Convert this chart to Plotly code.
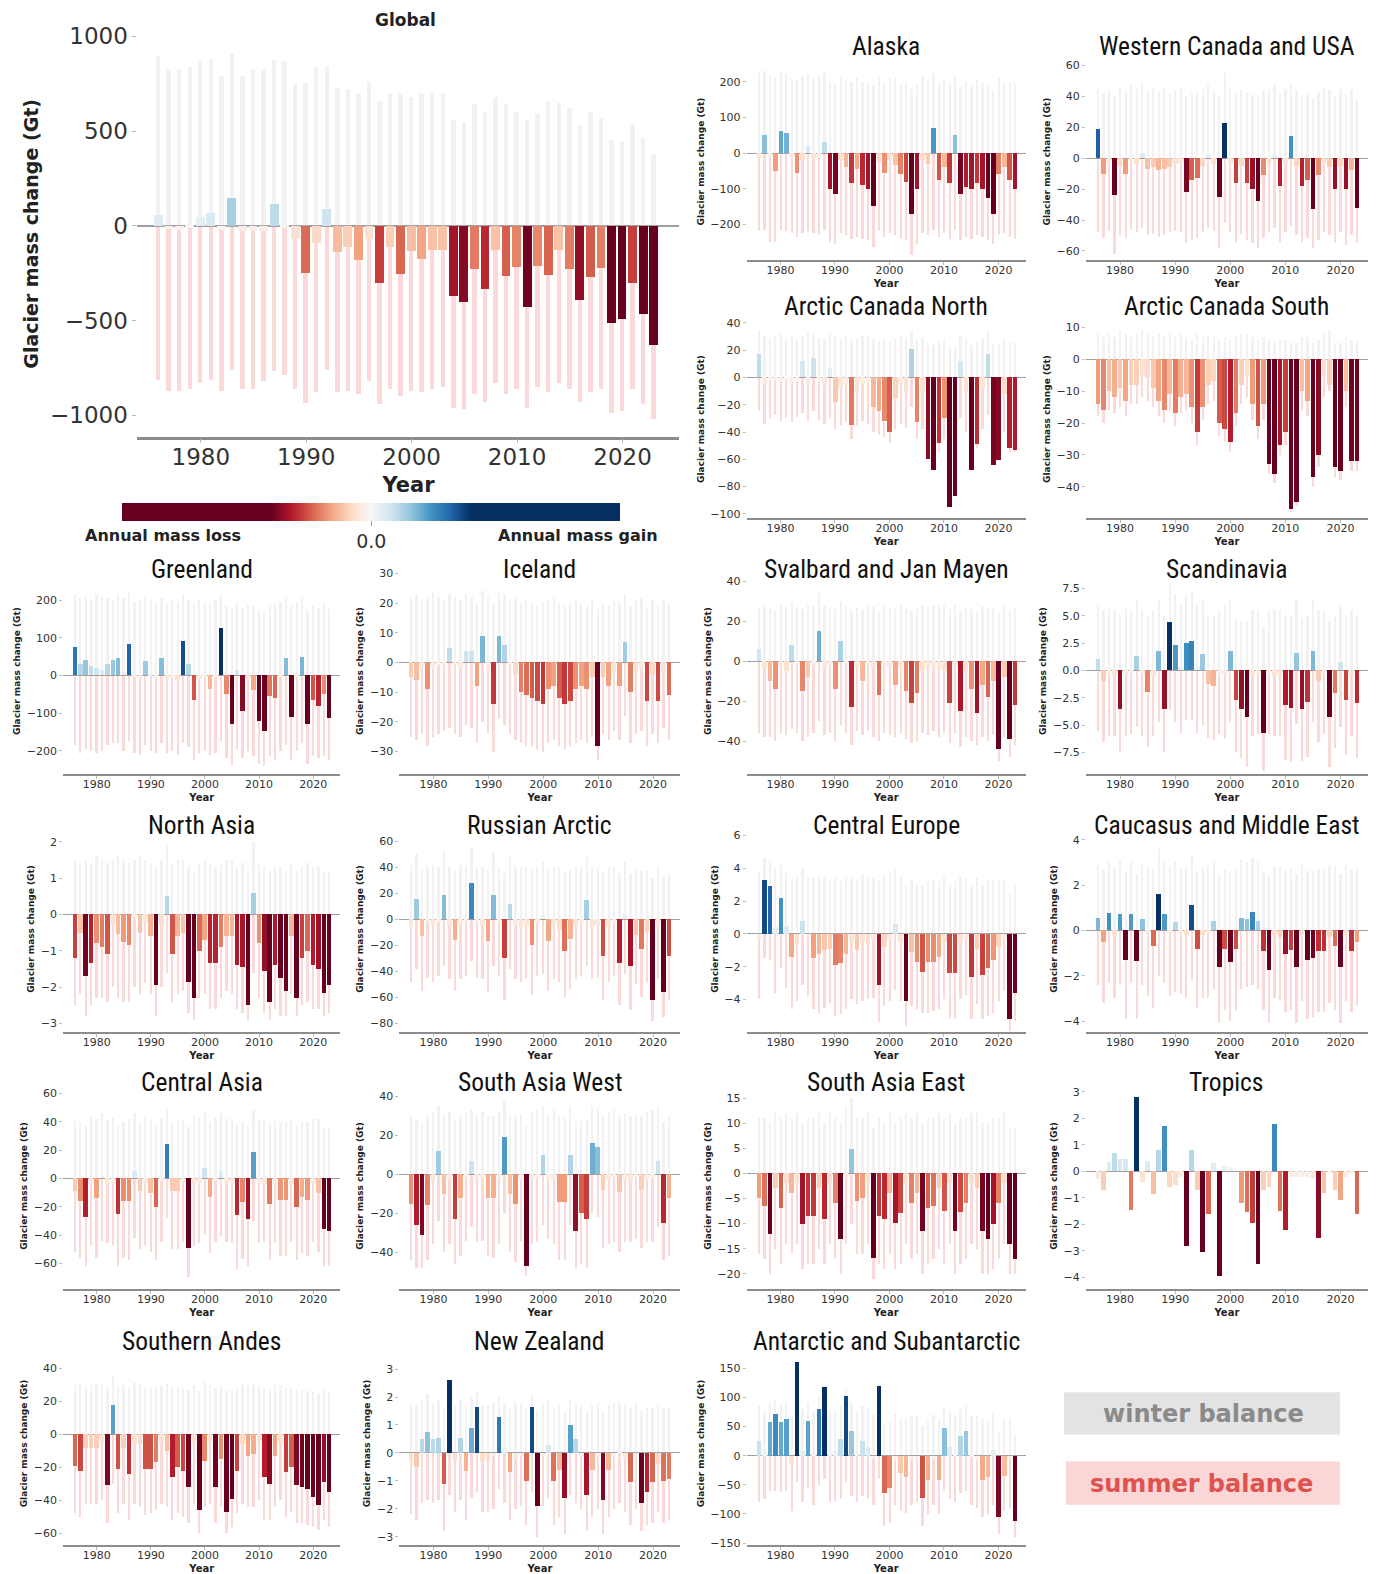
import plotly.graph_objects as go
import plotly.express as px

YEARS = list(range(1976, 2024))
XTICKS = [1980, 1990, 2000, 2010, 2020]

# ---------------- data (Gt) ----------------
global_annual = [55, -15, -20, -10, 45, 65, -20, 145, -30, -25, -30, 115, -10, -70, -250, -90, 90, -140, -110, -180, -70, -305, -110, -255, -135, -175, -130, -130, -370, -405, -230, -335, -130, -265, -220, -430, -215, -260, -130, -230, -390, -270, -225, -515, -495, -305, -465, -630]
global_winter = [895, 830, 830, 840, 870, 880, 790, 905, 790, 830, 830, 877, 870, 750, 755, 840, 840, 726, 720, 700, 764, 660, 700, 700, 680, 700, 700, 700, 560, 547, 640, 600, 680, 640, 600, 560, 590, 660, 650, 620, 530, 600, 570, 453, 445, 538, 462, 380]
global_summer = [-815, -870, -870, -860, -830, -815, -870, -760, -860, -860, -820, -765, -790, -860, -935, -880, -760, -880, -870, -890, -820, -940, -860, -900, -870, -880, -860, -850, -960, -965, -890, -930, -830, -890, -860, -960, -850, -880, -830, -860, -930, -880, -860, -990, -980, -860, -940, -1020]

alaska_annual = [-15, 50, -10, -50, 62, 57, -10, -55, -20, 20, -15, -10, 30, -100, -115, -20, -40, -85, -45, -90, -100, -150, -25, -55, -20, -35, -60, -80, -170, -100, -20, -30, 70, -75, -40, -85, 50, -115, -95, -100, -85, -100, -125, -170, -60, -40, -75, -100]
alaska_winter = [225, 230, 215, 210, 230, 225, 210, 205, 215, 225, 210, 215, 225, 200, 195, 215, 205, 200, 210, 200, 195, 190, 215, 200, 210, 210, 195, 200, 180, 190, 215, 200, 225, 200, 210, 195, 220, 185, 200, 190, 205, 195, 190, 175, 210, 200, 200, 195]
alaska_summer = [-220, -215, -250, -250, -215, -220, -225, -235, -225, -220, -225, -230, -215, -250, -255, -225, -230, -240, -235, -240, -245, -265, -220, -235, -225, -230, -240, -245, -285, -255, -225, -230, -215, -235, -225, -240, -215, -245, -235, -240, -230, -235, -245, -255, -230, -225, -235, -240]

wcusa_annual = [19, -10, -3, -24, -5, -10, -2, -4, 3, -7, -6, -8, -7, -6, -4, -3, -22, -14, -13, -5, 2, -4, -25, 23, -3, -16, -5, -16, -20, -28, -11, -4, 2, -18, -3, 14, -5, -18, -14, -33, -11, -4, -6, -20, -5, -20, -8, -32]
wcusa_winter = [45, 42, 44, 40, 46, 43, 47, 45, 48, 44, 46, 43, 45, 42, 44, 46, 40, 42, 43, 45, 47, 44, 40, 55, 46, 42, 44, 43, 41, 40, 44, 45, 47, 42, 45, 48, 44, 40, 42, 39, 43, 46, 44, 40, 45, 41, 44, 38]
wcusa_summer = [-48, -52, -47, -62, -50, -52, -46, -48, -45, -50, -49, -51, -50, -48, -47, -48, -55, -53, -52, -48, -45, -47, -58, -42, -48, -54, -49, -53, -55, -58, -52, -48, -45, -54, -48, -44, -50, -54, -52, -58, -53, -48, -50, -55, -48, -56, -50, -55]

acn_annual = [17, -5, -3, -2, -3, -2, -4, -3, 12, -5, 14, -3, -6, 7, -18, -8, -5, -35, -10, -5, -4, -22, -25, -32, -40, -15, -5, -10, 21, -33, -10, -60, -68, -48, -30, -95, -87, 12, -10, -68, -49, -8, 17, -64, -61, -12, -52, -53]
acn_winter = [35, 30, 28, 30, 32, 29, 31, 28, 30, 33, 31, 29, 28, 32, 30, 28, 30, 27, 29, 30, 31, 28, 27, 29, 26, 28, 30, 29, 34, 27, 29, 25, 24, 27, 28, 22, 23, 30, 28, 24, 26, 29, 33, 24, 25, 28, 26, 25]
acn_summer = [-25, -34, -30, -28, -32, -30, -33, -29, -26, -32, -25, -31, -34, -30, -38, -35, -33, -45, -36, -32, -34, -40, -42, -44, -48, -38, -34, -37, -22, -45, -38, -60, -65, -55, -45, -90, -85, -30, -40, -65, -52, -38, -28, -62, -60, -40, -55, -55]

acs_annual = [-14, -16, -10, -12, -9, -13, -8, -8, -5, -6, -9, -13, -16, -11, -17, -12, -11, -15, -23, -15, -8, -7, -20, -22, -26, -17, -8, -5, -14, -21, -14, -33, -36, -27, -23, -47, -45, -10, -13, -37, -30, -5, -8, -34, -35, -10, -32, -32]
acs_winter = [8, 7, 8, 7, 9, 8, 7, 8, 9, 8, 7, 8, 7, 8, 7, 8, 7, 6, 8, 7, 8, 7, 6, 7, 6, 7, 8, 8, 7, 6, 7, 6, 5, 6, 6, 5, 5, 7, 7, 5, 6, 8, 9, 5, 5, 7, 6, 6]
acs_summer = [-18, -20, -16, -17, -15, -18, -14, -14, -12, -13, -15, -18, -20, -16, -21, -17, -16, -20, -27, -19, -14, -13, -24, -26, -29, -21, -14, -12, -19, -25, -19, -36, -39, -30, -27, -48, -46, -16, -18, -40, -34, -12, -10, -37, -38, -15, -35, -35]

greenland_annual = [75, 30, 40, 25, 20, 15, 30, 40, 45, 10, 83, -5, -10, 38, 5, -5, 45, -10, -5, -15, 92, 30, -65, -10, -5, -35, -5, 125, -50, -130, 15, -95, -10, -40, -120, -148, -55, -60, -5, 45, -110, -5, 48, -130, -65, -80, -50, -112]
greenland_winter = [215, 205, 210, 200, 215, 210, 205, 200, 215, 205, 220, 195, 200, 210, 200, 195, 205, 190, 200, 195, 215, 200, 190, 200, 195, 190, 200, 215, 185, 180, 195, 180, 190, 185, 175, 170, 185, 190, 195, 205, 185, 195, 205, 170, 185, 180, 190, 175]
greenland_summer = [-185, -205, -195, -200, -205, -200, -185, -180, -180, -200, -175, -205, -210, -185, -200, -205, -180, -205, -200, -210, -180, -190, -225, -205, -200, -210, -205, -175, -220, -240, -195, -220, -200, -215, -235, -240, -215, -225, -200, -185, -225, -200, -180, -235, -215, -220, -215, -225]

iceland_annual = [-5, -6, -2, -9, -2, -1, -1, 5, -1, -2, 4, 4, -8, 9, -2, -14, 9, 6, -1, -4, -10, -11, -12, -13, -14, -9, -8, -12, -14, -13, -9, -8, -9, -5, -28, -5, -8, -3, -8, 7, -10, -3, -2, -13, -4, -13, -3, -11]
iceland_winter = [22, 23, 21, 22, 24, 22, 21, 23, 22, 21, 23, 22, 20, 24, 22, 20, 24, 23, 21, 22, 20, 21, 20, 19, 20, 21, 22, 20, 19, 20, 21, 20, 19, 21, 18, 20, 19, 21, 20, 23, 19, 21, 22, 18, 21, 19, 21, 20]
iceland_summer = [-25, -26, -24, -28, -25, -24, -23, -22, -24, -25, -21, -22, -27, -20, -24, -30, -19, -21, -24, -26, -27, -28, -28, -29, -30, -27, -26, -28, -29, -28, -27, -26, -27, -25, -33, -24, -26, -23, -26, -18, -27, -24, -23, -28, -24, -27, -22, -26]

svalbard_annual = [6, -4, -10, -14, -3, -5, 8, -2, -15, -8, -2, 15, -3, -2, -14, 10, -2, -23, -3, -10, -2, -4, -17, -2, -3, -12, -3, -15, -21, -16, -5, -4, -3, -4, -5, -21, -3, -25, -5, -14, -26, -12, -18, -10, -44, -8, -39, -22]
svalbard_winter = [27, 28, 26, 25, 28, 27, 30, 27, 26, 28, 27, 34, 28, 27, 26, 30, 28, 25, 27, 26, 28, 27, 25, 28, 27, 26, 28, 26, 25, 27, 28, 27, 28, 27, 28, 26, 28, 25, 27, 26, 25, 27, 26, 27, 24, 28, 25, 27]
svalbard_summer = [-36, -38, -38, -40, -36, -37, -34, -36, -40, -38, -36, -30, -37, -36, -40, -32, -36, -42, -35, -37, -35, -38, -40, -36, -37, -38, -36, -39, -41, -40, -36, -37, -35, -38, -36, -41, -36, -43, -38, -40, -42, -38, -40, -37, -50, -38, -48, -42]

scandinavia_annual = [1.0, -1.0, -0.3, -0.5, -3.5, -0.3, -0.2, 1.3, -0.3, -2.0, -0.5, 1.8, -3.5, 4.4, 2.3, 0.3, 2.5, 2.7, 0.3, 1.5, -1.2, -1.4, -0.3, -0.3, 1.8, -2.7, -3.5, -4.3, -0.5, -0.3, -5.7, -0.3, -0.5, -0.5, -3.2, -3.4, 1.6, -3.5, -2.9, 1.8, -1.0, -0.3, -4.3, -2.1, 0.8, -2.7, -0.5, -3.0]
scandinavia_winter = [6.0, 5.5, 5.8, 5.5, 5.2, 5.8, 5.5, 6.5, 5.5, 5.0, 5.5, 6.5, 5.0, 8.0, 7.0, 6.0, 7.0, 7.2, 6.0, 6.5, 5.0, 5.0, 5.5, 6.0, 6.5, 4.8, 4.5, 4.5, 5.5, 5.5, 4.0, 5.5, 5.5, 5.5, 5.0, 5.0, 6.5, 4.8, 5.0, 6.5, 5.5, 5.5, 4.5, 5.0, 6.0, 5.0, 5.5, 5.0]
scandinavia_summer = [-5.5, -6.5, -6.0, -6.0, -7.5, -6.0, -5.8, -5.2, -6.0, -7.0, -6.0, -4.7, -7.5, -3.6, -4.7, -5.7, -4.5, -4.5, -5.7, -5.0, -6.2, -6.4, -5.8, -6.3, -4.7, -7.5, -8.0, -8.8, -6.0, -5.8, -9.2, -5.8, -6.0, -6.0, -8.2, -8.4, -4.9, -8.3, -7.9, -4.7, -6.5, -5.8, -8.8, -7.1, -5.2, -7.7, -6.0, -8.0]

northasia_annual = [-1.2, -0.5, -1.7, -1.35, -0.8, -0.9, -1.1, -0.3, -0.55, -0.75, -0.85, -0.1, -0.5, -0.2, -0.6, -1.95, -0.3, 0.5, -1.1, -0.6, -0.5, -1.85, -2.3, -1.0, -0.7, -1.35, -1.35, -0.9, -0.6, -0.6, -1.4, -1.45, -2.5, 0.6, -0.8, -1.55, -2.4, -1.4, -1.75, -2.1, -0.6, -2.3, -1.2, -1.0, -1.4, -1.5, -2.15, -1.95]
northasia_winter = [1.5, 1.4, 1.5, 1.4, 1.6, 1.5, 1.4, 1.5, 1.6, 1.5, 1.4, 1.5, 1.6, 1.5, 1.4, 1.3, 1.5, 1.9, 1.4, 1.5, 1.5, 1.3, 1.2, 1.4, 1.5, 1.4, 1.3, 1.4, 1.5, 1.5, 1.3, 1.4, 1.2, 2.0, 1.4, 1.3, 1.2, 1.3, 1.3, 1.2, 1.4, 1.2, 1.3, 1.4, 1.3, 1.3, 1.2, 1.2]
northasia_summer = [-2.5, -2.2, -2.8, -2.5, -2.3, -2.3, -2.4, -2.0, -2.3, -2.4, -2.4, -2.0, -2.2, -1.9, -2.2, -2.8, -2.0, -1.6, -2.4, -2.2, -2.1, -2.7, -2.9, -2.3, -2.2, -2.6, -2.6, -2.3, -2.1, -2.2, -2.6, -2.7, -2.9, -1.6, -2.3, -2.7, -2.9, -2.6, -2.8, -2.8, -2.2, -2.8, -2.5, -2.4, -2.6, -2.6, -2.8, -2.7]

russian_annual = [-5, 16, -13, -3, -5, -2, 19, -5, -16, -4, -2, 28, -3, -5, -17, 19, -3, -30, 12, -4, -6, -5, -20, -3, 3, -17, -5, -8, -24, -15, -5, -3, 15, -5, -4, -28, -6, -3, -34, 4, -36, -12, -23, -10, -62, -5, -56, -28]
russian_winter = [42, 50, 38, 40, 42, 40, 52, 40, 38, 42, 41, 55, 40, 40, 38, 52, 40, 36, 48, 40, 40, 40, 38, 40, 44, 38, 40, 40, 37, 38, 40, 40, 48, 40, 40, 37, 40, 40, 36, 44, 36, 38, 37, 38, 32, 40, 33, 36]
russian_summer = [-48, -38, -55, -45, -48, -44, -36, -46, -55, -46, -44, -32, -45, -46, -56, -36, -44, -62, -38, -46, -48, -45, -58, -44, -42, -55, -46, -48, -60, -54, -46, -44, -36, -46, -45, -62, -48, -44, -66, -42, -70, -50, -60, -48, -78, -46, -75, -62]

centraleurope_annual = [-0.3, 3.3, 2.9, 0.4, 2.2, 0.5, -1.4, -0.6, 0.8, -0.3, -1.5, -1.2, -1.0, -0.9, -1.9, -1.8, -1.2, -0.5, -1.0, -0.5, -0.6, -0.4, -3.1, -0.8, -0.3, 0.6, -0.5, -4.1, -1.1, -1.7, -2.3, -1.7, -1.7, -1.4, -0.5, -2.4, -2.4, -0.5, -0.3, -2.6, -0.9, -2.5, -2.1, -1.6, -0.8, -0.3, -5.2, -3.6]
centraleurope_winter = [3.8, 4.6, 4.4, 4.0, 4.2, 3.8, 3.4, 3.6, 4.0, 3.5, 3.5, 3.6, 3.5, 3.3, 3.4, 3.2, 3.5, 3.5, 3.3, 3.6, 3.4, 3.5, 3.2, 3.6, 3.8, 4.0, 3.6, 3.0, 3.3, 3.0, 3.0, 3.2, 3.3, 3.2, 3.5, 3.0, 3.2, 3.5, 3.4, 3.0, 3.4, 3.0, 3.3, 3.2, 3.3, 3.2, 2.5, 3.0]
centraleurope_summer = [-4.0, -1.5, -1.6, -3.6, -2.1, -3.3, -4.6, -4.1, -3.1, -3.8, -4.6, -4.8, -4.5, -4.2, -5.0, -4.9, -4.6, -4.0, -4.3, -4.1, -4.0, -3.9, -5.4, -4.4, -4.1, -3.4, -4.1, -5.6, -4.4, -4.6, -4.8, -4.8, -4.7, -4.6, -4.0, -5.1, -5.2, -4.0, -3.7, -5.2, -4.3, -5.2, -5.0, -4.8, -4.1, -3.5, -5.9, -5.3]

caucasus_annual = [0.55, -0.5, 0.75, -0.2, 0.7, -1.3, 0.7, -1.35, 0.5, -0.1, -0.7, 1.6, 0.7, -0.1, 0.35, -0.1, -0.2, 1.1, -0.8, -0.2, -0.1, 0.4, -1.6, -0.8, -1.4, -0.8, 0.55, 0.5, 0.8, 0.4, -0.9, -1.75, -0.2, -0.3, -1.05, -0.85, -1.6, -0.2, -1.3, -1.2, -0.9, -0.9, -0.3, -0.7, -1.6, -0.2, -0.9, -0.5]
caucasus_winter = [2.9, 2.7, 3.0, 2.8, 3.1, 2.6, 3.0, 2.5, 2.9, 2.8, 2.7, 3.6, 3.0, 2.8, 3.0, 2.7, 2.8, 3.3, 2.6, 2.8, 2.9, 3.0, 2.5, 2.7, 2.6, 2.7, 3.1, 3.0, 3.2, 3.0, 2.6, 2.4, 2.8, 2.8, 2.6, 2.7, 2.5, 2.9, 2.6, 2.6, 2.7, 2.7, 2.9, 2.8, 2.5, 2.9, 2.7, 2.8]
caucasus_summer = [-2.4, -3.2, -2.3, -3.0, -2.4, -3.9, -2.3, -3.9, -2.4, -2.9, -3.4, -2.0, -2.3, -2.9, -2.7, -2.8, -3.0, -2.2, -3.4, -3.0, -3.0, -2.6, -4.1, -3.5, -4.0, -3.5, -2.6, -2.5, -2.4, -2.6, -3.5, -4.1, -3.0, -3.1, -3.6, -3.5, -4.1, -3.1, -3.9, -3.8, -3.6, -3.6, -3.2, -3.5, -4.1, -3.1, -3.6, -3.3]

centralasia_annual = [-9, -16, -27, -3, -14, 2, -4, -3, -25, -16, -16, 5, -9, -3, -10, -20, -2, 24, -9, -9, -3, -49, -4, -3, 7, -13, -2, 5, -3, -4, -26, -17, -29, 19, -3, -4, -18, -3, -15, -15, -4, -20, -13, -15, -3, -10, -36, -37]
centralasia_winter = [42, 40, 38, 44, 42, 46, 41, 43, 38, 40, 42, 46, 40, 44, 41, 38, 43, 50, 40, 41, 42, 36, 44, 43, 47, 40, 43, 46, 42, 41, 38, 40, 37, 48, 42, 41, 39, 42, 40, 40, 41, 38, 40, 40, 42, 42, 36, 36]
centralasia_summer = [-52, -56, -62, -47, -56, -44, -46, -47, -62, -56, -58, -42, -50, -47, -52, -58, -45, -28, -50, -50, -45, -70, -48, -46, -40, -53, -45, -41, -45, -46, -64, -57, -62, -30, -46, -45, -58, -46, -55, -55, -45, -58, -53, -55, -45, -52, -62, -62]

saw_annual = [-15, -26, -31, -16, -4, 12, -10, -3, -23, -12, -2, 7, -3, -2, -12, -12, -3, 19, -10, -15, -3, -47, -3, -2, 10, -2, -3, -14, -14, 10, -29, -20, -23, 16, 14, -8, -3, -2, -9, -3, -4, -2, -8, -3, -2, 7, -25, -12]
saw_winter = [30, 28, 26, 30, 32, 35, 30, 32, 28, 30, 32, 33, 31, 32, 30, 30, 32, 38, 30, 30, 31, 25, 32, 33, 35, 31, 33, 30, 29, 35, 27, 28, 28, 35, 34, 30, 32, 33, 30, 31, 30, 31, 30, 32, 33, 34, 27, 30]
saw_summer = [-44, -48, -48, -44, -36, -24, -40, -36, -46, -42, -34, -27, -35, -34, -42, -43, -36, -20, -40, -45, -34, -52, -36, -35, -26, -33, -36, -44, -44, -26, -48, -46, -48, -20, -22, -38, -36, -35, -40, -35, -35, -33, -38, -35, -35, -27, -44, -42]

sae_annual = [-5, -6.5, -12, -3, -7, -2, -4, -2, -10, -8.5, -8.5, -3, -9, -2, -6, -13, -1, 4.8, -5.5, -5, -2, -16.8, -8.5, -9, -4, -9.8, -8, -2, -6, -4, -11.5, -7, -6.5, -3, -7.5, -2, -11.5, -7.8, -6, -2, -3, -11.5, -13, -10, -6, -2, -14, -17]
sae_winter = [11, 11, 10, 12, 11, 12, 11, 12, 10, 11, 11, 12, 10, 12, 11, 10, 13, 15, 11, 11, 12, 9, 11, 10, 12, 10, 11, 12, 11, 12, 10, 11, 11, 12, 11, 12, 10, 11, 11, 12, 12, 10, 10, 11, 11, 12, 9, 9]
sae_summer = [-16, -17, -20, -15, -18, -14, -16, -14, -19, -18, -18, -15, -18, -14, -17, -20, -14, -10, -16, -16, -14, -21, -18, -19, -16, -19, -18, -14, -17, -16, -20, -18, -17, -15, -18, -14, -20, -18, -17, -14, -15, -20, -20, -19, -17, -14, -20, -20]

tropics_annual = [-0.3, -0.7, 0.35, 0.7, 0.45, 0.45, -1.45, 2.8, -0.4, 0.4, -0.85, 0.8, 1.7, -0.6, -0.5, -0.2, -2.8, 0.8, -0.7, -3.05, -1.6, 0.3, -3.95, 0.2, 0.15, 0.0, -1.2, -1.55, -1.95, -3.5, -0.7, -0.6, 1.8, -1.5, -2.2, -0.2, -0.2, -0.2, -0.2, -0.3, -2.5, -0.8, -0.1, -0.7, -1.1, -0.2, -0.1, -1.6]
tropics_winter = []
tropics_summer = []

andes_annual = [-19, -22, -8, -8, -8, -5, -31, 18, -21, -8, -24, -5, -6, -21, -21, -17, -5, -10, -26, -20, -22, -32, -5, -46, -16, -5, -32, -15, -47, -39, -22, -6, -13, -12, -5, -26, -30, -13, -5, -23, -20, -31, -32, -33, -38, -43, -29, -35]
andes_winter = [30, 31, 29, 30, 31, 30, 28, 36, 29, 30, 28, 31, 30, 29, 28, 29, 30, 31, 28, 29, 28, 27, 30, 26, 32, 30, 28, 30, 26, 27, 29, 30, 31, 30, 30, 28, 27, 31, 30, 28, 29, 27, 27, 26, 26, 25, 27, 26]
andes_summer = [-48, -50, -42, -42, -42, -40, -54, -30, -48, -42, -52, -42, -44, -49, -48, -46, -42, -44, -52, -48, -50, -54, -42, -60, -44, -42, -54, -44, -60, -56, -48, -42, -44, -44, -40, -52, -52, -44, -40, -50, -47, -54, -54, -55, -56, -58, -52, -56]

nz_annual = [-0.3, -0.5, 0.5, 0.75, 0.5, 0.55, -1.1, 2.6, -0.3, 0.55, -0.65, 0.9, 1.65, -0.3, -0.3, -0.1, 1.3, 0.1, -0.7, -0.2, -0.1, -1.0, 1.65, -1.9, -0.1, 0.3, -1.0, -0.6, -1.6, 1.0, 0.5, -0.1, -1.5, -0.6, -0.1, -1.7, -0.6, -0.1, 0.1, -0.2, -1.05, -0.1, -1.8, -1.4, -1.05, -0.4, -1.0, -0.95]
nz_winter = [1.8, 1.7, 1.9, 2.1, 1.8, 1.9, 1.6, 2.3, 1.7, 1.9, 1.7, 2.0, 2.2, 1.7, 1.7, 1.8, 2.0, 1.8, 1.6, 1.8, 1.8, 1.6, 2.1, 1.5, 1.8, 1.9, 1.6, 1.7, 1.5, 1.9, 1.8, 1.7, 1.5, 1.7, 1.8, 1.5, 1.7, 1.8, 1.8, 1.7, 1.6, 1.8, 1.5, 1.6, 1.6, 1.7, 1.6, 1.6]
nz_summer = [-2.2, -2.4, -1.8, -1.7, -1.8, -1.7, -2.8, -1.5, -2.1, -1.7, -2.4, -1.6, -1.4, -2.1, -2.1, -2.0, -1.3, -1.8, -2.4, -2.0, -1.9, -2.6, -1.4, -3.0, -1.9, -1.6, -2.6, -2.3, -2.9, -1.5, -1.8, -2.0, -2.8, -2.3, -2.0, -2.9, -2.3, -2.0, -1.8, -2.1, -2.6, -2.0, -2.8, -2.6, -2.5, -2.1, -2.5, -2.4]

antarctic_annual = [25, 5, 57, 72, 58, 62, -15, 160, 10, 60, 5, 80, 118, 5, 8, 28, 102, 43, 5, 25, 15, -5, 120, -65, -55, -5, -30, -37, -5, -8, -72, -42, -5, -42, 47, 15, 3, 33, 43, -3, -5, -42, -37, 10, -105, -35, -8, -113]
antarctic_winter = [85, 75, 90, 95, 88, 92, 70, 130, 80, 90, 75, 100, 120, 75, 78, 85, 115, 90, 75, 85, 80, 70, 125, 55, 60, 72, 65, 62, 70, 68, 50, 60, 70, 62, 85, 75, 70, 80, 85, 68, 70, 62, 60, 75, 40, 62, 65, 35]
antarctic_summer = [-80, -75, -60, -60, -62, -60, -95, -45, -80, -55, -85, -50, -40, -80, -78, -75, -45, -70, -80, -70, -75, -85, -40, -120, -115, -85, -95, -98, -85, -80, -120, -100, -85, -100, -60, -75, -80, -65, -60, -85, -90, -105, -100, -85, -135, -95, -90, -140]

# ---------------- layout config ----------------
W, H = 1381, 1574
RDBU = px.colors.diverging.RdBu  # dark red -> dark blue

# positions below are measured on the reference picture (as displayed)
COLS = {1: (63, 339), 2: (398, 678), 3: (744, 1022), 4: (1082, 1363)}
ROWS = {"A": (62, 258), "B": (318, 515), 1: (565, 770), 2: (822, 1027),
        3: (1078, 1283), 4: (1336, 1538)}
TITLE_Y = {"A": 45, "B": 304, 1: 566, 2: 821, 3: 1077, 4: 1335}

panels = [
    # title, annual, winter, summer, col, row, yrange, dtick, fmt
    ("Alaska", alaska_annual, alaska_winter, alaska_summer, 3, "A", (-299.5, 252.5), 100, "d"),
    ("Western Canada and USA", wcusa_annual, wcusa_winter, wcusa_summer, 4, "A", (-65.8, 61.5), 20, "d"),
    ("Arctic Canada North", acn_annual, acn_winter, acn_summer, 3, "B", (-103, 42), 20, "d"),
    ("Arctic Canada South", acs_annual, acs_winter, acs_summer, 4, "B", (-49.8, 12.3), 10, "d"),
    ("Greenland", greenland_annual, greenland_winter, greenland_summer, 1, 1, (-261, 285), 100, "d"),
    ("Iceland", iceland_annual, iceland_winter, iceland_summer, 2, 1, (-37.5, 31.8), 10, "d"),
    ("Svalbard and Jan Mayen", svalbard_annual, svalbard_winter, svalbard_summer, 3, 1, (-56.3, 46.7), 20, "d"),
    ("Scandinavia", scandinavia_annual, scandinavia_winter, scandinavia_summer, 4, 1, (-9.45, 9.36), 2.5, ".1f"),
    ("North Asia", northasia_annual, northasia_winter, northasia_summer, 1, 2, (-3.23, 2.43), 1, "d"),
    ("Russian Arctic", russian_annual, russian_winter, russian_summer, 2, 2, (-86.6, 71.9), 20, "d"),
    ("Central Europe", centraleurope_annual, centraleurope_winter, centraleurope_summer, 3, 2, (-5.97, 6.58), 2, "d"),
    ("Caucasus and Middle East", caucasus_annual, caucasus_winter, caucasus_summer, 4, 2, (-4.47, 4.6), 2, "d"),
    ("Central Asia", centralasia_annual, centralasia_winter, centralasia_summer, 1, 3, (-78, 67.4), 20, "d"),
    ("South Asia West", saw_annual, saw_winter, saw_summer, 2, 3, (-58.8, 46.9), 20, "d"),
    ("South Asia East", sae_annual, sae_winter, sae_summer, 3, 3, (-23, 18), 5, "d"),
    ("Tropics", tropics_annual, tropics_winter, tropics_summer, 4, 3, (-4.43, 3.33), 1, "d"),
    ("Southern Andes", andes_annual, andes_winter, andes_summer, 1, 4, (-67, 56), 20, "d"),
    ("New Zealand", nz_annual, nz_winter, nz_summer, 2, 4, (-3.29, 3.97), 1, "d"),
    ("Antarctic and Subantarctic", antarctic_annual, antarctic_winter, antarctic_summer, 3, 4, (-153, 195), 50, "d"),
]

TICKFONT = "DejaVu Sans"
TITLEFONT = "Liberation Sans Narrow, Roboto Condensed, Liberation Sans, Arial, sans-serif"
WINTER_C = "rgba(200,200,200,0.24)"
SUMMER_C = "rgba(240,130,130,0.30)"


def fx(x):
    return (x * 1381 / 1376) / W


def fy(y):
    # compensates the slight vertical rescaling of the captured page
    return 1 - ((y - 7) / 0.988) / H


fig = go.Figure()
layout = {}
annotations = []
shapes = []


def note(text, x, y, size, color, family=TICKFONT):
    annotations.append(dict(text=text, x=fx(x), y=fy(y), xref="paper", yref="paper",
                            xanchor="center", yanchor="middle", showarrow=False,
                            font=dict(family=family, size=size, color=color)))


def add_panel(k, annual, winter, summer, xdom, ydom, xrange_, yrange, dtick, fmt, big=False):
    xa = "x" if k == 1 else f"x{k}"
    ya = "y" if k == 1 else f"y{k}"
    if winter:
        fig.add_trace(go.Bar(x=YEARS, y=winter, width=0.42, marker=dict(color=WINTER_C, line_width=0),
                             xaxis=xa, yaxis=ya, showlegend=False, hoverinfo="skip"))
    if summer:
        fig.add_trace(go.Bar(x=YEARS, y=summer, width=0.42, marker=dict(color=SUMMER_C, line_width=0),
                             xaxis=xa, yaxis=ya, showlegend=False, hoverinfo="skip"))
    lim = 0.7 * max(abs(v) for v in annual)
    fig.add_trace(go.Bar(x=YEARS, y=annual, width=0.84,
                         marker=dict(color=annual, colorscale=RDBU, cmin=-lim, cmax=lim, line_width=0),
                         xaxis=xa, yaxis=ya, showlegend=False))
    tfs = 23 if big else 11
    xt = 21 if big else 10
    yt = 19 if big else 9
    layout["xaxis" if k == 1 else f"xaxis{k}"] = dict(
        domain=[fx(xdom[0]), fx(xdom[1])], range=list(xrange_), anchor=ya,
        tickvals=XTICKS, ticks="outside", ticklen=4 if big else 3, tickcolor="#bbbbbb",
        ticklabelstandoff=-6 if big else -4,
        showline=True, linecolor="#8c8c8c", linewidth=2.5 if big else 2,
        showgrid=False, zeroline=False,
        tickfont=dict(family=TICKFONT, size=tfs, color="#333333"),
        title=dict(text="<b>Year</b>", font=dict(family=TICKFONT, size=xt, color="#222222"),
                   standoff=9 if big else 4),
    )
    layout["yaxis" if k == 1 else f"yaxis{k}"] = dict(
        domain=[fy(ydom[1]), fy(ydom[0])], range=list(yrange), anchor=xa,
        tick0=0, dtick=dtick, tickformat=fmt, ticks="outside", ticklen=4 if big else 3,
        tickcolor="#bbbbbb", showline=False, showgrid=False,
        zeroline=True, zerolinecolor="#a0a0a0", zerolinewidth=1.5 if big else 1,
        tickfont=dict(family=TICKFONT, size=tfs, color="#333333"),
        title=dict(text="<b>Glacier mass change (Gt)</b>",
                   font=dict(family=TICKFONT, size=yt, color="#222222"),
                   standoff=6 if big else 4),
    )


# global panel
add_panel(1, global_annual, global_winter, global_summer, (137, 677), (30, 434),
          (1974.0, 2025.4), (-1113, 1028), 500, "d", big=True)
note("<b>Global</b>", 404, 19, 17, "#222222")

for i, (title, ann, win, summ, col, row, yr, dt, fmt) in enumerate(panels, start=2):
    xd = COLS[col]
    yd = ROWS[row]
    add_panel(i, ann, win, summ, xd, yd, (1973.8, 2025.0), yr, dt, fmt)
    note(title, (xd[0] + xd[1]) / 2, TITLE_Y[row], 25.5, "#111111", TITLEFONT)

# colorbar (annual mass change)
cb_scale = [[0.0, RDBU[0]], [0.3, RDBU[0]]]
for j, c in enumerate(RDBU[1:-1], start=1):
    cb_scale.append([0.3 + 0.4 * j / 10, c])
cb_scale += [[0.7, RDBU[-1]], [1.0, RDBU[-1]]]
fig.add_trace(go.Scatter(x=[1900], y=[0], mode="markers", xaxis="x", yaxis="y",
                         marker=dict(color=[0], coloraxis="coloraxis"), showlegend=False,
                         hoverinfo="skip"))
layout["coloraxis"] = dict(
    colorscale=cb_scale, cmin=-1, cmax=1,
    colorbar=dict(orientation="h", x=fx(370), xanchor="center", y=fy(500), yanchor="top",
                  len=498, lenmode="pixels", thickness=18, outlinewidth=0, xpad=0, ypad=0,
                  tickvals=[0], ticktext=["0.0"], ticks="outside", ticklen=5, tickcolor="#999999",
                  tickfont=dict(family=TICKFONT, size=19, color="#333333")))
note("<b>Annual mass loss</b>", 162, 533, 16, "#222222")
note("<b>Annual mass gain</b>", 576, 533, 16, "#222222")

# legend boxes
shapes.append(dict(type="rect", xref="paper", yref="paper", x0=fx(1060), x1=fx(1335), y0=fy(1428), y1=fy(1386),
                   fillcolor="#e3e3e3", line=dict(width=0)))
shapes.append(dict(type="rect", xref="paper", yref="paper", x0=fx(1062), x1=fx(1335), y0=fy(1498), y1=fy(1455),
                   fillcolor="#fad6d6", line=dict(width=0)))
note("<b>winter balance</b>", 1199, 1408, 24, "#8a8a8a")
note("<b>summer balance</b>", 1197, 1477, 24, "#e0524f")

fig.update_layout(
    width=W, height=H, margin=dict(l=0, r=0, t=0, b=0),
    paper_bgcolor="white", plot_bgcolor="white", barmode="overlay", bargap=0,
    annotations=annotations, shapes=shapes, **layout,
)

fig.write_html("out.html", config={"displayModeBar": False},
               post_script="document.body.style.margin='0';")
